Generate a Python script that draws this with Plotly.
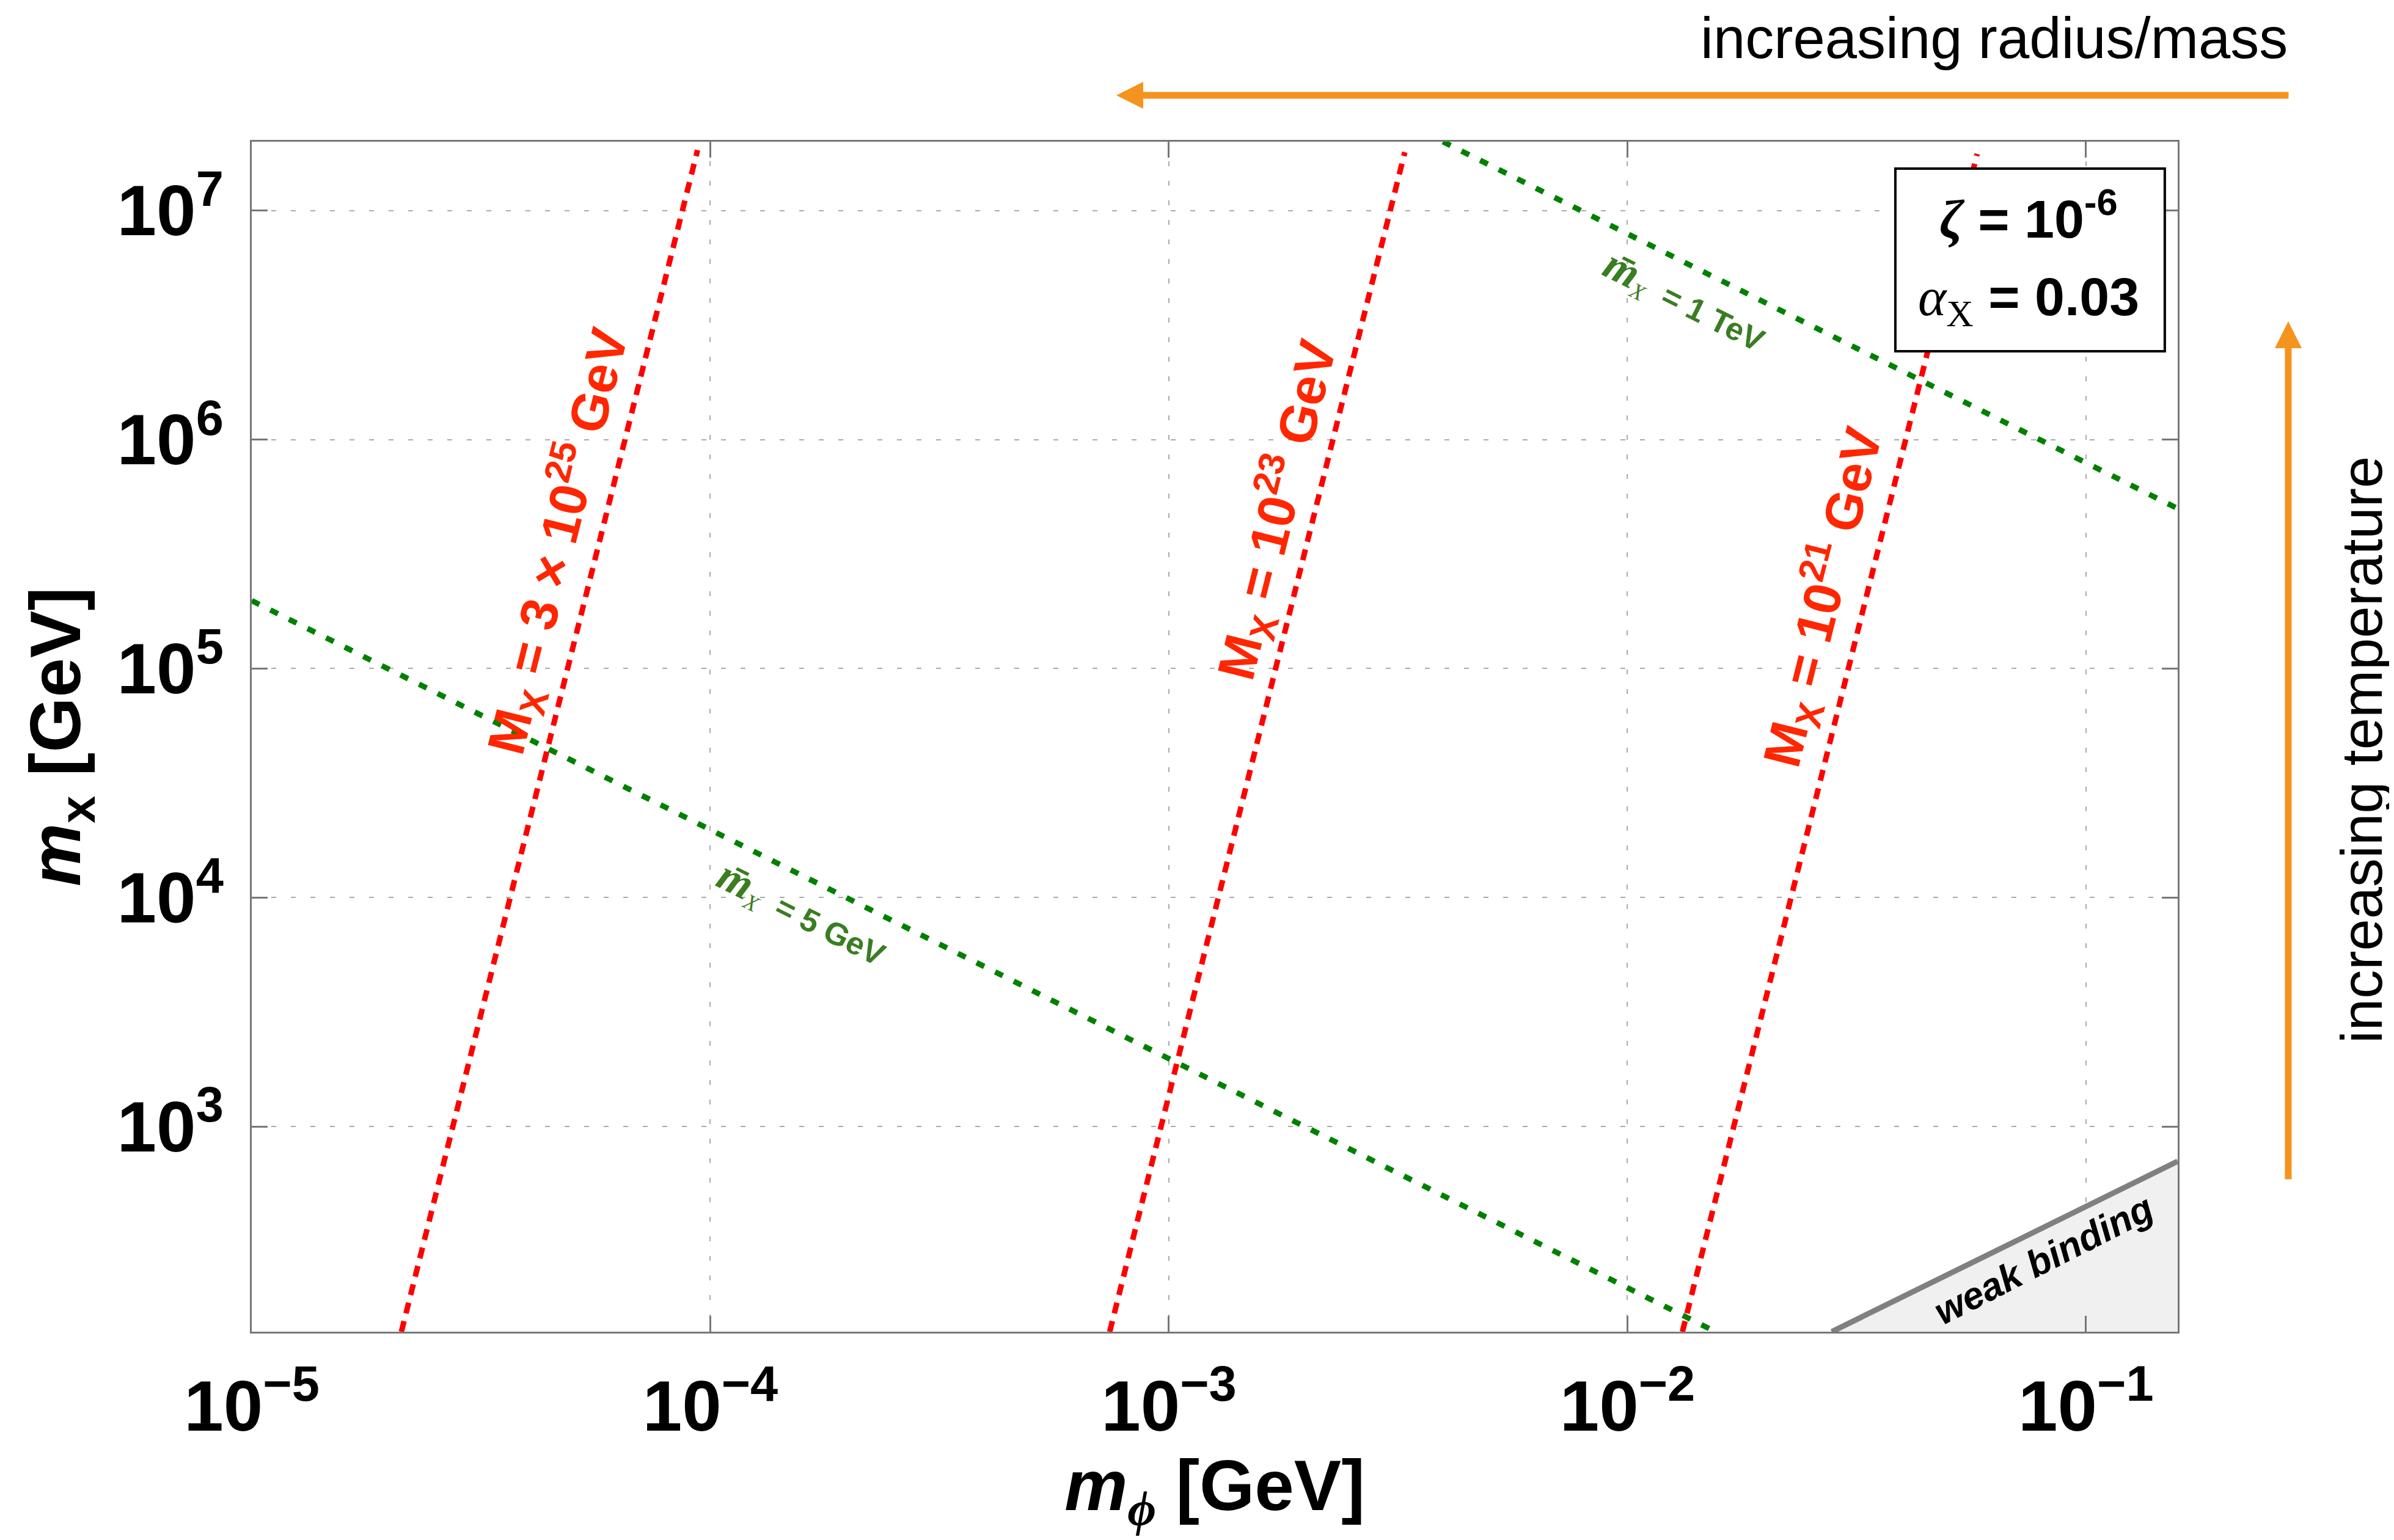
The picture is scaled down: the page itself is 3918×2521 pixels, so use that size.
import plotly.graph_objects as go

# ---------------- data ----------------
x_tick_vals = [1e-5, 1e-4, 1e-3, 1e-2, 1e-1]
x_tick_text = ["10<sup>−5</sup>", "10<sup>−4</sup>", "10<sup>−3</sup>", "10<sup>−2</sup>", "10<sup>−1</sup>"]
y_tick_vals = [1e3, 1e4, 1e5, 1e6, 1e7]
y_tick_text = ["10<sup>3</sup>", "10<sup>4</sup>", "10<sup>5</sup>", "10<sup>6</sup>", "10<sup>7</sup>"]

# red contours of constant M_X (straight in log-log: endpoints)
mx_labels = ["M<sub>X</sub> = 3 × 10<sup>25</sup> GeV",
             "M<sub>X</sub> = 10<sup>23</sup> GeV",
             "M<sub>X</sub> = 10<sup>21</sup> GeV"]
mx_mphi_start = [2.12e-5, 7.43e-4, 1.318e-2]
mx_mx_start = [127.0, 127.0, 127.0]
mx_mphi_end = [9.38e-5, 3.27e-3, 5.79e-2]
mx_mx_end = [1.84e7, 1.80e7, 1.77e7]

# green contours of constant m-bar_X
mbar_labels = ["5 GeV", "1 TeV"]
mbar_mphi_start = [1.0e-5, 3.96e-3]
mbar_mx_start = [1.98e5, 2.0e7]
mbar_mphi_end = [1.563e-2, 0.1585]
mbar_mx_end = [126.5, 5.0e5]

# weak binding region
wb_mphi = [0.0279, 0.1585, 0.1585]
wb_mx = [127.0, 705.0, 127.0]

# ---------------- styling ----------------
SANS = "Liberation Sans, Arial, Helvetica, sans-serif"
SERIF = "Liberation Serif, Times New Roman, serif"
RED_LINE = "#ff0000"
RED_TXT = "#ff2600"
GREEN_LINE = "#008000"
GREEN_TXT = "#3a7d22"
ORANGE = "#f4931e"

fig = go.Figure()

# weak binding shaded region and boundary
fig.add_trace(go.Scatter(x=wb_mphi, y=wb_mx, mode="lines", fill="toself",
                         fillcolor="#f0f0f0", line=dict(width=0), hoverinfo="skip",
                         showlegend=False))
fig.add_trace(go.Scatter(x=wb_mphi[:2], y=wb_mx[:2], mode="lines",
                         line=dict(color="#808080", width=9), showlegend=False))

for i in range(len(mbar_labels)):
    fig.add_trace(go.Scatter(x=[mbar_mphi_start[i], mbar_mphi_end[i]],
                             y=[mbar_mx_start[i], mbar_mx_end[i]], mode="lines",
                             line=dict(color=GREEN_LINE, width=9, dash="14px,20px"),
                             showlegend=False))
for i in range(len(mx_labels)):
    fig.add_trace(go.Scatter(x=[mx_mphi_start[i], mx_mphi_end[i]],
                             y=[mx_mx_start[i], mx_mx_end[i]], mode="lines",
                             line=dict(color=RED_LINE, width=9, dash="18px,13px"),
                             showlegend=False))

# labels of contours (positions in log10 coordinates)
red_pos = [(-4.333, 5.555), (-2.764, 5.693), (-1.574, 5.312)]
for (lx, ly), txt in zip(red_pos, mx_labels):
    fig.add_annotation(x=lx, y=ly, xref="x", yref="y", text=txt, showarrow=False,
                       textangle=-75.9, xanchor="center", yanchor="middle",
                       font=dict(family=SANS, size=86, color=RED_TXT, weight="bold"))

green_pos = [(-3.800, 3.930), (-1.875, 6.605)]
for (lx, ly), txt in zip(green_pos, mbar_labels):
    t = ('<span style="font-family:Liberation Serif;font-size:72px"><i>m̄</i></span>'
         '<span style="font-family:Liberation Serif;font-weight:normal"><sub><i>X</i></sub></span>'
         '  = ' + txt)
    fig.add_annotation(x=lx, y=ly, xref="x", yref="y", text=t, showarrow=False,
                       textangle=26.5, xanchor="center", yanchor="middle",
                       font=dict(family=SANS, size=52, color=GREEN_TXT, weight="bold"))

fig.add_annotation(x=-1.092, y=2.420, xref="x", yref="y", text="<i>weak binding</i>",
                   showarrow=False, textangle=-27, xanchor="center", yanchor="middle",
                   font=dict(family=SANS, size=62, color="black", weight="bold"))

# parameter box
fig.add_shape(type="rect", xref="paper", yref="paper", x0=0.8534, x1=0.9933,
              y0=0.8239, y1=0.9774, line=dict(color="black", width=4),
              fillcolor="white", layer="above")
fig.add_annotation(x=-1.125, y=6.981, xref="x", yref="y", showarrow=False,
                   text='<span style="font-family:Liberation Serif"><i>ζ</i></span> = 10<sup>-6</sup>',
                   font=dict(family=SANS, size=88, color="black", weight="bold"))
fig.add_annotation(x=-1.125, y=6.608, xref="x", yref="y", showarrow=False,
                   text='<span style="font-family:Liberation Serif;font-weight:normal"><i>α</i><sub>X</sub></span> = 0.03',
                   font=dict(family=SANS, size=88, color="black", weight="bold"))

# orange arrows and their texts
fig.add_annotation(x=0.4489, y=1.039, xref="paper", yref="paper", text="",
                   showarrow=True, ax=1920, ay=0, axref="pixel", ayref="pixel",
                   arrowhead=2, arrowsize=0.8, arrowwidth=11, arrowcolor=ORANGE)
fig.add_annotation(x=1.0574, y=0.8491, xref="paper", yref="paper", text="",
                   showarrow=True, ax=0, ay=1406, axref="pixel", ayref="pixel",
                   arrowhead=2, arrowsize=0.8, arrowwidth=11, arrowcolor=ORANGE)
fig.add_annotation(x=1.0577, y=1.0868, xref="paper", yref="paper",
                   text="increasing radius/mass", showarrow=False,
                   xanchor="right", yanchor="middle",
                   font=dict(family=SANS, size=94, color="black"))
fig.add_annotation(x=1.0955, y=0.4887, xref="paper", yref="paper",
                   text="increasing temperature", showarrow=False, textangle=-90,
                   xanchor="center", yanchor="middle",
                   font=dict(family=SANS, size=94, color="black"))

axis_common = dict(type="log", showline=True, linecolor="#777777", linewidth=3,
                   mirror="ticks", ticks="inside", ticklen=26, tickwidth=3,
                   tickcolor="#777777", showgrid=True, gridcolor="#aaaaaa",
                   gridwidth=2, griddash="8px,24px", zeroline=False,
                   tickfont=dict(family=SANS, size=116, color="black", weight="bold"))

fig.update_xaxes(**axis_common, range=[-5, -0.8], tickvals=x_tick_vals,
                 ticktext=x_tick_text, ticklabelstandoff=20,
                 title=dict(text='<i>m</i><span style="font-family:Liberation Serif"><sub><i>ϕ</i></sub></span> [GeV]',
                            standoff=14,
                            font=dict(family=SANS, size=116, color="black", weight="bold")))
fig.update_yaxes(**axis_common, range=[2.104, 7.301], tickvals=y_tick_vals,
                 ticktext=y_tick_text, ticklabelstandoff=20,
                 title=dict(text="<i>m</i><sub>x</sub> [GeV]", standoff=22,
                            font=dict(family=SANS, size=116, color="black", weight="bold")))

fig.update_layout(width=3918, height=2521, autosize=False,
                  margin=dict(l=404, r=362, t=224, b=349, pad=0),
                  paper_bgcolor="white", plot_bgcolor="white", showlegend=False)

fig.write_html("out.html")
